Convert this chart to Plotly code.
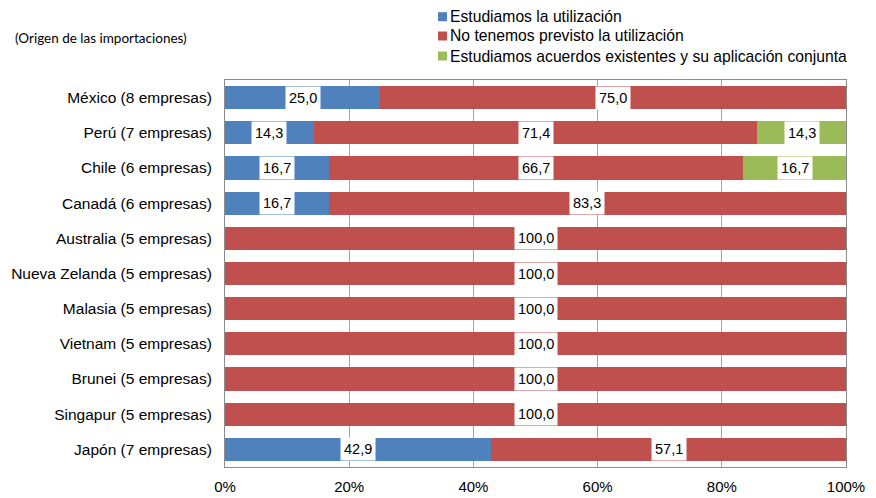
import plotly.graph_objects as go

categories = ["México (8 empresas)", "Perú (7 empresas)", "Chile (6 empresas)", "Canadá (6 empresas)",
              "Australia (5 empresas)", "Nueva Zelanda (5 empresas)", "Malasia (5 empresas)",
              "Vietnam (5 empresas)", "Brunei (5 empresas)", "Singapur (5 empresas)", "Japón (7 empresas)"]
estudiamos = [25.0, 14.3, 16.7, 16.7, 0, 0, 0, 0, 0, 0, 42.9]
no_previsto = [75.0, 71.4, 66.7, 83.3, 100.0, 100.0, 100.0, 100.0, 100.0, 100.0, 57.1]
acuerdos = [0, 14.3, 16.7, 0, 0, 0, 0, 0, 0, 0, 0]
series_names = ["Estudiamos la utilización", "No tenemos previsto la utilización",
                "Estudiamos acuerdos existentes y su aplicación conjunta"]
colors = ["#4F81BD", "#C0504D", "#9BBB59"]
x_ticks = [0, 20, 40, 60, 80, 100]
x_tick_labels = ["0%", "20%", "40%", "60%", "80%", "100%"]

font_main = "Liberation Sans, Arial, sans-serif"
fig = go.Figure()
all_series = [estudiamos, no_previsto, acuerdos]
for name, vals, col in zip(series_names, all_series, colors):
    fig.add_trace(go.Bar(y=categories, x=vals, name=name, orientation="h",
                         marker=dict(color=col, line=dict(width=0)), hoverinfo="x+y",
                         showlegend=False))

# value labels with white boxes
for i, cat in enumerate(categories):
    base = 0
    for vals in all_series:
        v = vals[i]
        if v > 0:
            fig.add_annotation(x=base + v / 2, y=cat, xref="x", yref="y",
                               text=f"{v:.1f}".replace(".", ","), showarrow=False,
                               bgcolor="white", borderpad=3,
                               font=dict(family=font_main, size=14.5, color="#000"))
        base += v

# legend (drawn in paper coordinates above the plot)
legend_rows_y = [1.1635, 1.1137, 1.062]
for name, col, ly in zip(series_names, colors, legend_rows_y):
    fig.add_shape(type="rect", xref="paper", yref="paper", xsizemode="pixel", ysizemode="pixel",
                  xanchor=0.343, yanchor=ly, x0=0, x1=9, y0=-4.5, y1=4.5,
                  fillcolor=col, line=dict(width=0))
    fig.add_annotation(x=0.343, y=ly, xref="paper", yref="paper", xanchor="left", yanchor="middle",
                       xshift=11, text=name, showarrow=False, borderpad=0,
                       font=dict(family=font_main, size=15.7, color="#000"))

fig.add_annotation(x=-0.341, y=1.1085, xref="paper", yref="paper", xanchor="left", yanchor="middle",
                   text="(Origen de las importaciones)", showarrow=False,
                   font=dict(family="Lato, sans-serif", size=13.5, color="#000"))

fig.update_layout(
    width=868, height=490,
    barmode="stack", bargap=0.34,
    plot_bgcolor="white", paper_bgcolor="white",
    margin=dict(l=217, r=30, t=72, b=31, autoexpand=False),
    font=dict(family=font_main, size=15, color="#000"),
    showlegend=False,
    xaxis=dict(range=[0, 100], tickvals=x_ticks, ticktext=x_tick_labels, showgrid=True,
               gridcolor="#a6a6a6", gridwidth=1, showline=True, linecolor="#8c8c8c",
               mirror=True, zeroline=False, ticks="", ticklabelstandoff=6,
               tickfont=dict(size=15), automargin=False),
    yaxis=dict(categoryorder="array", categoryarray=categories, autorange="reversed",
               showline=True, linecolor="#8c8c8c", mirror=True, showgrid=False,
               ticks="", ticklabelstandoff=9, tickfont=dict(size=15.5), automargin=False),
)
fig.write_html("out.html")
